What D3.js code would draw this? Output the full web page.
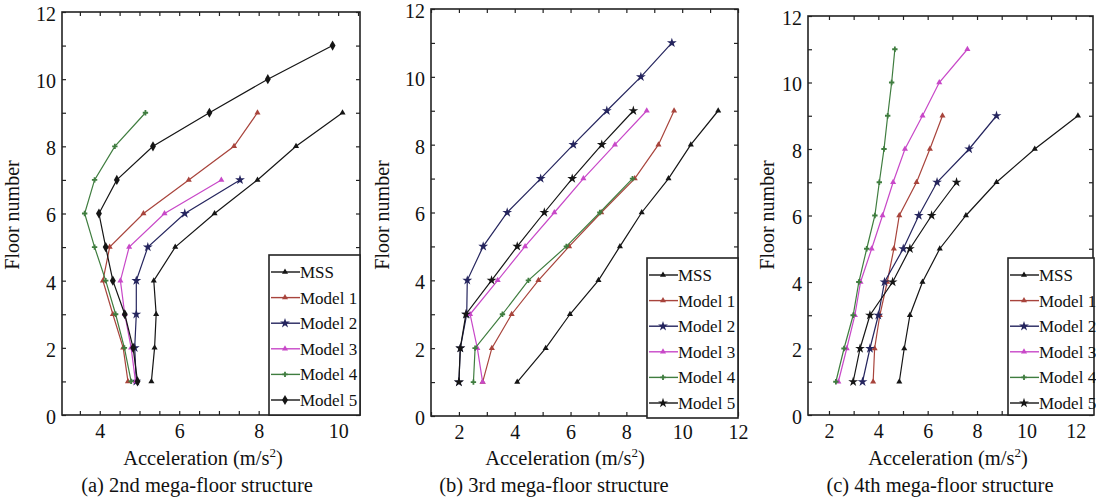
<!DOCTYPE html>
<html>
<head>
<meta charset="utf-8">
<script src="https://cdn.jsdelivr.net/npm/d3@7/dist/d3.min.js"></script>
<style>
  body { margin: 0; background: #fff; }
  svg { display: block; }
</style>
</head>
<body>
<svg id="chart" width="1096" height="501"></svg>
<script>
// series order in every panel: MSS, Model 1 .. Model 5 ; value i is floor i+1
var seriesNames = ["MSS", "Model 1", "Model 2", "Model 3", "Model 4", "Model 5"];
var seriesColors = ["#151515", "#a8443c", "#25255e", "#c848c8", "#3f7d3f", "#151515"];

var accA = [
	[5.30, 5.38, 5.42, 5.36, 5.90, 6.89, 7.97, 8.94, 10.11],
	[4.71, 4.59, 4.33, 4.08, 4.25, 5.10, 6.24, 7.38, 7.97],
	[4.92, 4.88, 4.92, 4.92, 5.21, 6.14, 7.53],
	[4.90, 4.79, 4.63, 4.52, 4.74, 5.63, 7.06],
	[4.79, 4.62, 4.40, 4.15, 3.87, 3.62, 3.87, 4.38, 5.15],
	[4.95, 4.84, 4.63, 4.33, 4.15, 3.98, 4.43, 5.34, 6.76, 8.23, 9.86]
];
var accB = [
	[4.09, 5.11, 5.98, 7.00, 7.77, 8.55, 9.51, 10.31, 11.29],
	[2.85, 3.18, 3.89, 4.85, 5.95, 7.10, 8.30, 9.15, 9.71],
	[2.00, 2.05, 2.28, 2.30, 2.87, 3.73, 4.93, 6.10, 7.30, 8.52, 9.63],
	[2.85, 2.66, 2.40, 3.39, 4.37, 5.42, 6.46, 7.59, 8.73],
	[2.52, 2.58, 3.56, 4.49, 5.85, 7.05, 8.22],
	[2.00, 2.05, 2.25, 3.17, 4.09, 5.06, 6.06, 7.12, 8.25]
];
var accC = [
	[4.85, 5.05, 5.28, 5.79, 6.49, 7.55, 8.79, 10.34, 12.09],
	[3.79, 3.85, 4.06, 4.36, 4.63, 4.85, 5.55, 6.09, 6.60],
	[3.36, 3.66, 4.00, 4.25, 5.01, 5.64, 6.38, 7.68, 8.79],
	[2.38, 2.72, 3.05, 3.28, 3.73, 4.17, 4.60, 5.08, 5.79, 6.47, 7.61],
	[2.28, 2.61, 2.98, 3.21, 3.53, 3.86, 4.04, 4.23, 4.38, 4.54, 4.67],
	[2.98, 3.26, 3.66, 4.58, 5.28, 6.16, 7.17]
];

var xLabelsA = [4, 6, 8, 10];
var xLabelsB = [2, 4, 6, 8, 10, 12];
var xLabelsC = [2, 4, 6, 8, 10, 12];
var yLabels = [0, 2, 4, 6, 8, 10, 12];

var captions = ["(a) 2nd mega-floor structure", "(b) 3rd mega-floor structure", "(c) 4th mega-floor structure"];

var FONT = "'Liberation Serif', 'Times New Roman', serif";

var panels = [
	{ data: accA, xd: [3.05, 10.55], xr: [62, 360], yr: [415, 12], xl: xLabelsA, tickStep: 0.5,
	  ylabX: 19, titleX: 203, capX: 197, leg: [269, 255, 91, 160], m5: "diamond" },
	{ data: accB, xd: [1, 12], xr: [431, 738], yr: [416, 9], xl: xLabelsB, tickStep: 1,
	  ylabX: 389, titleX: 565, capX: 554, leg: [647, 258, 91, 160], m5: "star" },
	{ data: accC, xd: [1.15, 12.7], xr: [808, 1093], yr: [415, 16], xl: xLabelsC, tickStep: 1,
	  ylabX: 774, titleX: 948, capX: 940, leg: [1008, 258, 86, 157], m5: "star" }
];

var svg = d3.select("#chart");
svg.append("rect").attr("width", 1096).attr("height", 501).attr("fill", "#fff");

function markerType(k, p) {
	if (k == 2) return d3.symbolStar;
	if (k == 5) return p.m5 == "star" ? d3.symbolStar : d3.symbolDiamond;
	if (k == 4) return d3.symbolCross;
	return d3.symbolTriangle;
}

function txt(sel, size) {
	return sel.style("font-family", FONT).style("font-size", size + "px").attr("fill", "#111");
}

panels.forEach(function(p, pi) {
	var x = d3.scaleLinear().domain(p.xd).range(p.xr);
	var y = d3.scaleLinear().domain([0, 12]).range(p.yr);
	var g = svg.append("g");

	var xt = d3.range(Math.ceil(p.xd[0] / p.tickStep) * p.tickStep, p.xd[1] + 0.001, p.tickStep);
	var yt = d3.range(0, 12.001, 1);
	var fmtX = function(d) { return p.xl.indexOf(d) >= 0 ? d : ""; };
	var fmtY = function(d) { return yLabels.indexOf(d) >= 0 ? d : ""; };

	// axes (ticks point inward, on all four sides)
	var ax = g.append("g").attr("transform", "translate(0," + p.yr[0] + ")")
		.call(d3.axisBottom(x).tickValues(xt).tickSize(-4).tickPadding(9).tickFormat(fmtX));
	g.append("g").attr("transform", "translate(0," + p.yr[1] + ")")
		.call(d3.axisTop(x).tickValues(xt).tickSize(-4).tickFormat(""));
	var ay = g.append("g").attr("transform", "translate(" + p.xr[0] + ",0)")
		.call(d3.axisLeft(y).tickValues(yt).tickSize(-4).tickPadding(6).tickFormat(fmtY));
	g.append("g").attr("transform", "translate(" + p.xr[1] + ",0)")
		.call(d3.axisRight(y).tickValues(yt).tickSize(-4).tickFormat(""));
	g.selectAll(".domain").remove();
	g.selectAll(".tick line").attr("stroke", "#222").attr("stroke-width", 1.2);
	txt(ax.selectAll(".tick text"), 20);
	txt(ay.selectAll(".tick text"), 20).attr("dy", "0.42em");

	g.append("rect").attr("x", p.xr[0]).attr("y", p.yr[1])
		.attr("width", p.xr[1] - p.xr[0]).attr("height", p.yr[0] - p.yr[1])
		.attr("fill", "none").attr("stroke", "#222").attr("stroke-width", 1.6);

	// series
	var line = d3.line().x(function(d) { return x(d); }).y(function(d, i) { return y(i + 1); });
	p.data.forEach(function(vals, k) {
		g.append("path").datum(vals).attr("d", line)
			.attr("fill", "none").attr("stroke", seriesColors[k]).attr("stroke-width", 1.2);
		g.selectAll(null).data(vals).enter().append("path")
			.attr("transform", function(d, i) { return "translate(" + x(d) + "," + y(i + 1) + ")"; })
			.attr("d", d3.symbol().type(markerType(k, p)).size(k == 2 || k == 5 ? 30 : 16))
			.attr("fill", seriesColors[k]);
	});

	// legend
	var L = p.leg;
	var lg = g.append("g");
	lg.append("rect").attr("x", L[0]).attr("y", L[1]).attr("width", L[2]).attr("height", L[3])
		.attr("fill", "#fff").attr("stroke", "#222").attr("stroke-width", 1.6);
	seriesNames.forEach(function(name, k) {
		var yy = L[1] + 17 + k * 25.6;
		lg.append("line").attr("x1", L[0] + 2).attr("x2", L[0] + 31).attr("y1", yy).attr("y2", yy)
			.attr("stroke", seriesColors[k]).attr("stroke-width", 1.4);
		lg.append("path").attr("transform", "translate(" + (L[0] + 16) + "," + yy + ")")
			.attr("d", d3.symbol().type(markerType(k, p)).size(k == 2 || k == 5 ? 30 : 16))
			.attr("fill", seriesColors[k]);
		txt(lg.append("text").attr("x", L[0] + 31).attr("y", yy + 6), 17).text(name);
	});

	// labels
	txt(g.append("text").attr("transform", "translate(" + p.ylabX + "," + 215 + ") rotate(-90)")
		.attr("text-anchor", "middle"), 20).text("Floor number");
	var t = txt(g.append("text").attr("x", p.titleX).attr("y", 465).attr("text-anchor", "middle"), 20.5)
		.text("Acceleration (m/s");
	t.append("tspan").attr("dy", -8).style("font-size", "13px").text("2");
	t.append("tspan").attr("dy", 8).text(")");
	txt(g.append("text").attr("x", p.capX).attr("y", 492).attr("text-anchor", "middle"), 20.5)
		.text(captions[pi]);
});
</script>
</body>
</html>
